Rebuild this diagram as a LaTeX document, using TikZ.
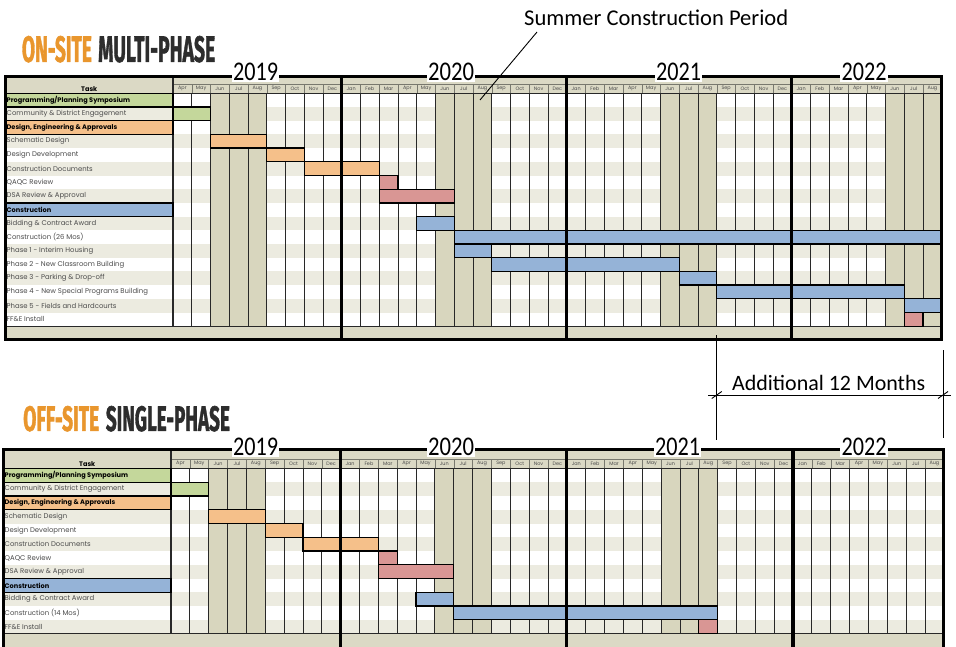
\documentclass[tikz,border=0pt]{standalone}
\usepackage{fontspec}
\setmainfont{Poppins}
\newfontfamily\calfont{Carlito}
\newfontfamily\ttlfont{Fira Sans}[BoldFeatures={FakeBold=1.6}]
\definecolor{sumtan}{RGB}{216,214,190}
\definecolor{hdrtan}{RGB}{219,217,197}
\definecolor{stripe}{RGB}{236,235,224}
\definecolor{gr}{RGB}{196,215,155}
\definecolor{orb}{RGB}{245,192,138}
\definecolor{bl}{RGB}{149,179,215}
\definecolor{pk}{RGB}{217,150,148}
\definecolor{ttlorange}{RGB}{233,150,45}
\definecolor{ttldark}{RGB}{45,45,45}
\definecolor{txtgray}{RGB}{75,75,75}
\definecolor{lnk}{RGB}{40,40,40}
\definecolor{labline}{RGB}{120,120,110}
\tikzset{
 monline/.style={draw=lnk,line width=0.9pt},
 labrule/.style={draw=labline,line width=0.5pt},
 hline/.style={draw=lnk,line width=1.2pt},
 yearline/.style={draw=black,line width=3.2pt},
 chartborder/.style={draw=black,line width=3pt},
 barbox/.style={draw=black,line width=1.3pt},
 catbox/.style={draw=black,line width=1.2pt},
 monlab/.style={inner sep=0pt,font=\fontsize{4.9}{5}\selectfont,text=txtgray},
 tasklab/.style={anchor=west,inner sep=0pt,font=\fontsize{6.9}{7}\selectfont,text=txtgray},
 catlab/.style={anchor=west,inner sep=0pt,font=\fontsize{6.6}{7}\selectfont\bfseries,text=black},
 yearlab/.style={fill=white,inner sep=1.2pt},
 ttl/.style={anchor=south west,inner sep=0pt},
 annot/.style={draw=black,line width=0.9pt},
}
\def\MONTHS{Apr,May,Jun,Jul,Aug,Sep,Oct,Nov,Dec,Jan,Feb,Mar,Apr,May,Jun,Jul,Aug,Sep,Oct,Nov,Dec,Jan,Feb,Mar,Apr,May,Jun,Jul,Aug,Sep,Oct,Nov,Dec,Jan,Feb,Mar,Apr,May,Jun,Jul,Aug}
\newcommand\drawchart{%
 \pgfmathsetmacro\XR{\XT+41*\MW}%
 \pgfmathsetmacro\YRE{\YR+\NR*\RH}%
 \fill[hdrtan] (\XL,\YB) rectangle (\XR,\YR);
 \foreach \i in {0,...,\NRm}{\ifodd\i\relax \fill[stripe] (\XL,{\YR+\i*\RH}) rectangle (\XR,{\YR+(\i+1)*\RH});\fi}
 \foreach \m in \SUMMER {\fill[sumtan] ({\XT+\m*\MW},\YR) rectangle ({\XT+(\m+1)*\MW},\YRE);}
 \fill[hdrtan] (\XL,\YRE) rectangle (\XR,\YBOT);
 \draw[labrule] (\XT,\YLAB) -- (\XR,\YLAB);
 \foreach \nm [count=\k from 0] in \MONTHS {\node[monlab] (\PF lab\k) at ({\XT+(\k+0.5)*\MW},{(\YLAB+\YR)/2}) {\nm};}
 \foreach \m in {1,...,40}{\draw[labrule] ({\XT+\m*\MW},\YLAB) -- ({\XT+\m*\MW},\YR);
   \draw[monline] ({\XT+\m*\MW},\YR) -- ({\XT+\m*\MW},\YRE);}
 \draw[hline] (\XL,\YR) -- (\XR,\YR);
 \draw[hline] (\XL,\YRE) -- (\XR,\YRE);
 \draw[hline] (\XT,\YB) -- (\XT,\YRE);
 \node[catlab,anchor=center] (\PF taskhdr) at ({(\XL+\XT)/2},{(\YLAB+\YR)/2}) {Task};
}
\newcommand\drawframe{%
 \foreach \m in {9,21,33}{\draw[yearline] ({\XT+\m*\MW},\YB) -- ({\XT+\m*\MW},\YBOT);}
 \draw[chartborder] (\XL,\YBOT) -- (\XL,\YB) -- (\XR,\YB) -- (\XR,\YBOT) -- cycle;
}
\newcommand\taskrow[2]{\node[tasklab] (\PF task#1) at ({\XL+1},{\YR+(#1+0.5)*\RH}) {#2};}
\newcommand\catrow[3]{\path[catbox,fill=#2] (\XL,{\YR+#1*\RH}) rectangle (\XT,{\YR+(#1+1)*\RH});
 \node[catlab] (\PF task#1) at ({\XL+1},{\YR+(#1+0.5)*\RH}) {#3};}
\newcommand\gbar[4]{\path[barbox,fill=#4] ({\XT+#1*\MW},{\YR+#3*\RH}) rectangle ({\XT+#2*\MW},{\YR+(#3+1)*\RH});}
\begin{document}
\begin{tikzpicture}[x=1pt,y=-1pt]
\useasboundingbox (0,0) rectangle (956,646);
\fill[white] (0,0) rectangle (956,646);
% ---------- top chart ----------
\def\PF{a}\def\XL{5.5}\def\XT{173}\def\MW{18.75}\def\YB{76}\def\YLAB{84.5}\def\YR{93.3}\def\RH{13.7}\def\NR{17}\def\NRm{16}\def\YBOT{339.5}\def\SUMMER{2,3,4,14,15,16,26,27,28,38,39,40}
\drawchart
\catrow{0}{gr}{Programming/Planning Symposium}
\taskrow{1}{Community \& District Engagement}
\catrow{2}{orb}{Design, Engineering \& Approvals}
\taskrow{3}{Schematic Design}
\taskrow{4}{Design Development}
\taskrow{5}{Construction Documents}
\taskrow{6}{QAQC Review}
\taskrow{7}{DSA Review \& Approval}
\catrow{8}{bl}{Construction}
\taskrow{9}{Bidding \& Contract Award}
\taskrow{10}{Construction (26 Mos)}
\taskrow{11}{Phase 1 - Interim Housing}
\taskrow{12}{Phase 2 - New Classroom Building}
\taskrow{13}{Phase 3 - Parking \& Drop-off}
\taskrow{14}{Phase 4 - New Special Programs Building}
\taskrow{15}{Phase 5 - Fields and Hardcourts}
\taskrow{16}{FF\&E Install}
\gbar{0}{2}{1}{gr}
\gbar{2}{5}{3}{orb}
\gbar{5}{7}{4}{orb}
\gbar{7}{11}{5}{orb}
\gbar{11}{12}{6}{pk}
\gbar{11}{15}{7}{pk}
\gbar{13}{15}{9}{bl}
\gbar{15}{41}{10}{bl}
\gbar{15}{17}{11}{bl}
\gbar{17}{27}{12}{bl}
\gbar{27}{29}{13}{bl}
\gbar{29}{39}{14}{bl}
\gbar{39}{41}{15}{bl}
\gbar{39}{40}{16}{pk}
\drawframe
\node[yearlab] (ay19) at (255.5,72) {\resizebox{45pt}{17.5pt}{\calfont 2019}};
\node[yearlab] (ay20) at (451,72) {\resizebox{46pt}{17.5pt}{\calfont 2020}};
\node[yearlab] (ay21) at (678.5,72) {\resizebox{45pt}{17.5pt}{\calfont 2021}};
\node[yearlab] (ay22) at (864,72) {\resizebox{45pt}{17.5pt}{\calfont 2022}};
% ---------- bottom chart ----------
\def\PF{b}\def\XL{3.5}\def\XT{171}\def\MW{18.85}\def\YB{449.5}\def\YLAB{459}\def\YR{468.5}\def\RH{13.75}\def\NR{12}\def\NRm{11}\def\YBOT{650}\def\SUMMER{2,3,4,14,15,16,26,27,28}
\drawchart
\catrow{0}{gr}{Programming/Planning Symposium}
\taskrow{1}{Community \& District Engagement}
\catrow{2}{orb}{Design, Engineering \& Approvals}
\taskrow{3}{Schematic Design}
\taskrow{4}{Design Development}
\taskrow{5}{Construction Documents}
\taskrow{6}{QAQC Review}
\taskrow{7}{DSA Review \& Approval}
\catrow{8}{bl}{Construction}
\taskrow{9}{Bidding \& Contract Award}
\taskrow{10}{Construction (14 Mos)}
\taskrow{11}{FF\&E Install}
\gbar{0}{2}{1}{gr}
\gbar{2}{5}{3}{orb}
\gbar{5}{7}{4}{orb}
\gbar{7}{11}{5}{orb}
\gbar{11}{12}{6}{pk}
\gbar{11}{15}{7}{pk}
\gbar{13}{15}{9}{bl}
\gbar{15}{29}{10}{bl}
\gbar{28}{29}{11}{pk}
\drawframe
\node[yearlab] (by19) at (255.5,446.5) {\resizebox{45pt}{17.5pt}{\calfont 2019}};
\node[yearlab] (by20) at (451,446.5) {\resizebox{46pt}{17.5pt}{\calfont 2020}};
\node[yearlab] (by21) at (677.5,446.5) {\resizebox{45pt}{17.5pt}{\calfont 2021}};
\node[yearlab] (by22) at (864,446.5) {\resizebox{45pt}{17.5pt}{\calfont 2022}};
% ---------- titles ----------
\node[ttl] (t1a) at (21.7,62.7) {\resizebox{70pt}{26pt}{\ttlfont\bfseries\color{ttlorange}ON-SITE}};
\node[ttl] (t1b) at (98,62.7) {\resizebox{117pt}{26pt}{\ttlfont\bfseries\color{ttldark}MULTI-PHASE}};
\node[ttl] (t2a) at (23,431.7) {\resizebox{76pt}{25pt}{\ttlfont\bfseries\color{ttlorange}OFF-SITE}};
\node[ttl] (t2b) at (105.7,431.7) {\resizebox{124pt}{25pt}{\ttlfont\bfseries\color{ttldark}SINGLE-PHASE}};
% ---------- annotations ----------
\node[anchor=base west,inner sep=0pt] (scp) at (524,25) {\resizebox{264pt}{!}{\calfont Summer Construction Period}};
\coordinate (lead-a) at (537,32);
\coordinate (lead-b) at (480,100);
\draw[annot] (lead-a) -- (lead-b);
\node[anchor=base west,inner sep=0pt] (add) at (732,390) {\resizebox{193pt}{!}{\calfont Additional 12 Months}};
\coordinate (extL-a) at (716.75,335);
\coordinate (extL-b) at (716.75,440);
\coordinate (extR-a) at (943,350);
\coordinate (extR-b) at (943,438);
\coordinate (dimL) at (708,395);
\coordinate (dimR) at (951,395);
\draw[annot] (extL-a) -- (extL-b);
\draw[annot] (extR-a) -- (extR-b);
\draw[annot] (dimL) -- (dimR);
\draw[annot] ([shift={(-5,3.5)}]716.75,395) -- ([shift={(5,-3.5)}]716.75,395);
\draw[annot] ([shift={(-5,3.5)}]943,395) -- ([shift={(5,-3.5)}]943,395);
\end{tikzpicture}
\end{document}
